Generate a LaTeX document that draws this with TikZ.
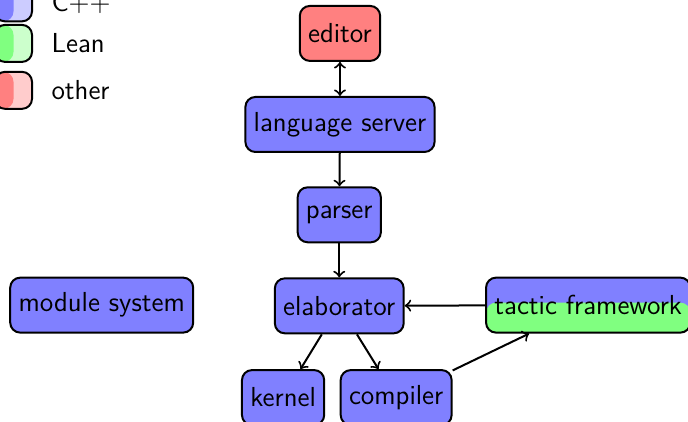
\documentclass[tikz,border=0pt]{standalone}
\renewcommand{\familydefault}{\sfdefault}
\tikzset{
  comp/.style={draw, thick, rounded corners, minimum height=22pt, fill=#1!50},
  key/.style={draw, thick, rounded corners, minimum size=14.8pt, fill=#1!20,
    path picture={\fill[#1!50] (path picture bounding box.south west) rectangle (path picture bounding box.north);}},
  halfgreen/.style={path picture={\fill[green!50] ([yshift=1pt]path picture bounding box.west) rectangle (path picture bounding box.south east);}}
}
\begin{document}
\begin{tikzpicture}[font=\fontsize{11}{13}\selectfont]
\useasboundingbox (0,0) rectangle (9.673,-5.933);

\node[key=blue] (kc) at (0.19,-0.04) {};
\node[right] at (0.60,-0.04) {C++};
\node[key=green] (kl) at (0.19,-0.61) {};
\node[right] at (0.60,-0.61) {Lean};
\node[key=red] (ko) at (0.19,-1.27) {};
\node[right] at (0.60,-1.27) {other};

\node[comp=red] (editor) at (4.78,-0.47) {editor};
\node[comp=blue] (server) at (4.78,-1.75) {language server};
\node[comp=blue] (parser) at (4.77,-3.02) {parser};
\node[comp=blue] (elab) at (4.77,-4.30) {elaborator};
\node[comp=blue] (module) at (1.43,-4.29) {module system};
\node[comp=blue, halfgreen] (tactic) at (8.27,-4.29) {tactic framework};
\node[comp=blue] (kernel) at (3.98,-5.59) {kernel};
\node[comp=blue] (compiler) at (5.57,-5.59) {compiler};

\draw [<->, thick] (editor) -- (server);
\draw [->, thick] (server) -- (parser);
\draw [->, thick] (parser) -- (elab);
\draw [->, thick] (tactic) -- (elab);
\draw [->, thick] (elab) -- (kernel);
\draw [->, thick] (elab) -- (compiler);
\draw [->, thick] (compiler) -- (tactic);

\end{tikzpicture}
\end{document}
